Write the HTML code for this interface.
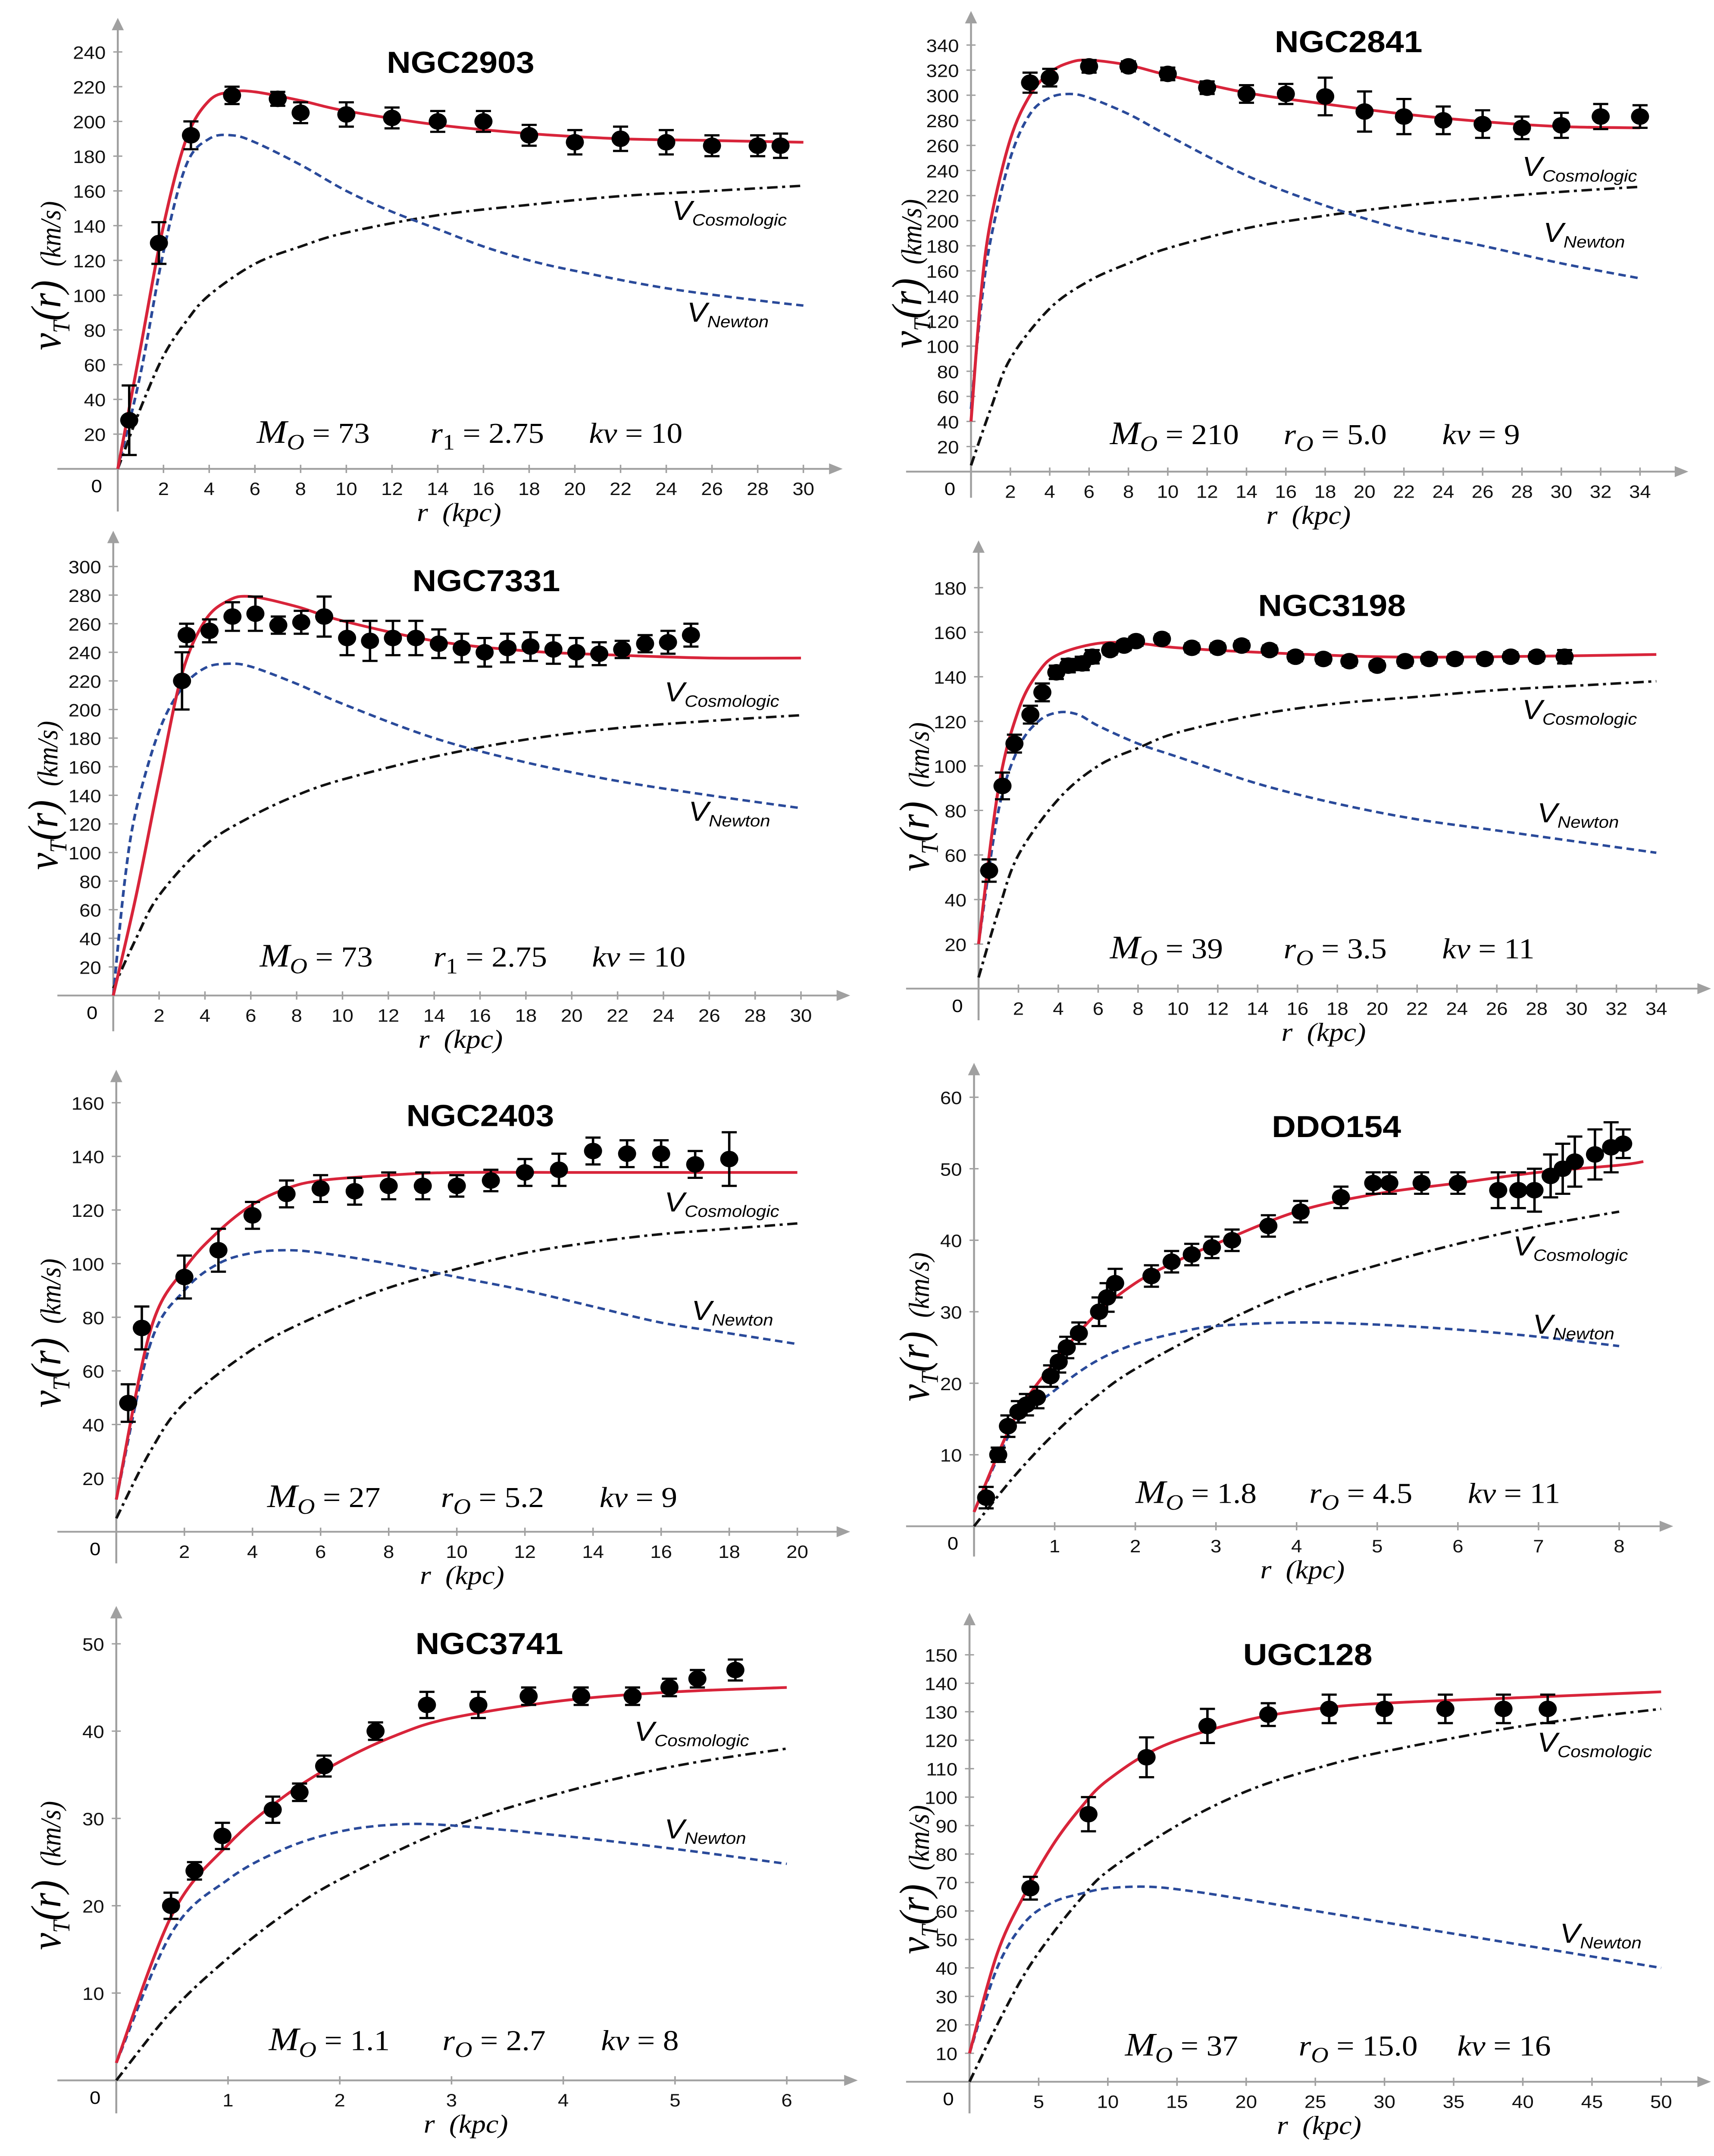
<!DOCTYPE html>
<html><head><meta charset="utf-8"><title>Rotation curves</title>
<style>html,body{margin:0;padding:0;background:#fff;overflow:hidden;width:100%;height:100%}svg{display:block;width:100%;height:100%}</style></head>
<body>
<svg id="root" xmlns="http://www.w3.org/2000/svg" viewBox="0 0 1135 1568" preserveAspectRatio="none"><g id="chart"></g></svg>
<script>
// ---------- data ----------
const titles = ["NGC2903","NGC2841","NGC7331","NGC3198","NGC2403","DDO154","NGC3741","UGC128"];
const params = [["73","r","1","2.75","10"],["210","r","O","5.0","9"],["73","r","1","2.75","10"],["39","r","O","3.5","11"],["27","r","O","5.2","9"],["1.8","r","O","4.5","11"],["1.1","r","O","2.7","8"],["37","r","O","15.0","16"]];
const xTicks = [[2,4,6,8,10,12,14,16,18,20,22,24,26,28,30],[2,4,6,8,10,12,14,16,18,20,22,24,26,28,30,32,34],[2,4,6,8,10,12,14,16,18,20,22,24,26,28,30],[2,4,6,8,10,12,14,16,18,20,22,24,26,28,30,32,34],[2,4,6,8,10,12,14,16,18,20],[1,2,3,4,5,6,7,8],[1,2,3,4,5,6],[5,10,15,20,25,30,35,40,45,50]];
const yTicks = [[20,40,60,80,100,120,140,160,180,200,220,240],[20,40,60,80,100,120,140,160,180,200,220,240,260,280,300,320,340],[20,40,60,80,100,120,140,160,180,200,220,240,260,280,300],[20,40,60,80,100,120,140,160,180],[20,40,60,80,100,120,140,160],[10,20,30,40,50,60],[10,20,30,40,50],[10,20,30,40,50,60,70,80,90,100,110,120,130,140,150]];

const obs1 = [[0.5,28,20],[1.8,130,12],[3.2,192,8],[5,215,5],[7,213,4],[8,205,6],[10,204,7],[12,202,6],[14,200,6],[16,200,6],[18,192,6],[20,188,7],[22,190,7],[24,188,7],[26,186,6],[28,186,6],[29,186,7]];
const fit1 = [[0,0],[1,70],[2,140],[3,190],[4,212],[5,217],[6,217],[8,212],[10,206],[14,198],[18,193],[22,190],[26,189],[30,188]];
const newt1 = [[0,0],[1,55],[2,125],[3,175],[4,190],[5,192],[6,188],[8,175],[10,160],[12,148],[14,138],[16,128],[18,120],[20,114],[24,104],[28,97],[30,94]];
const cosm1 = [[0,0],[1,35],[2,65],[3,85],[4,100],[6,118],[8,128],[10,136],[14,146],[18,152],[22,157],[26,160],[30,163]];

const obs2 = [[3,310,8],[4,314,7],[6,323,5],[8,323,4],[10,317,5],[12,306,5],[14,301,7],[16,301,8],[18,299,15],[20,287,16],[22,283,14],[24,280,11],[26,277,11],[28,274,9],[30,276,10],[32,283,10],[34,283,9]];
const fit2 = [[0,40],[0.5,140],[1,200],[2,265],[3,300],[4,318],[5,326],[6,328],[8,324],[10,316],[14,302],[18,293],[22,285],[26,279],[30,275],[34,274]];
const newt2 = [[0,50],[0.5,130],[1,185],[2,250],[3,285],[4,298],[5,301],[6,298],[8,285],[10,268],[14,236],[18,212],[22,193],[26,180],[30,166],[34,154]];
const cosm2 = [[0,5],[1,50],[2,90],[4,130],[6,152],[8,166],[10,178],[14,194],[18,204],[22,212],[26,218],[30,223],[34,227]];

const obs3 = [[3,220,20],[3.2,252,8],[4.2,255,8],[5.2,265,10],[6.2,267,12],[7.2,259,6],[8.2,261,8],[9.2,265,14],[10.2,250,12],[11.2,248,14],[12.2,250,12],[13.2,250,12],[14.2,246,10],[15.2,243,10],[16.2,240,10],[17.2,243,10],[18.2,244,10],[19.2,242,10],[20.2,240,10],[21.2,239,8],[22.2,242,6],[23.2,246,6],[24.2,247,8],[25.2,252,8]];
const fit3 = [[0,0],[1,70],[2,150],[3,225],[4,262],[5,276],[6,279],[8,272],[10,262],[14,248],[18,241],[22,238],[26,236],[30,236]];
const newt3 = [[0,0],[0.5,80],[1,130],[2,185],[3,215],[4,229],[5,232],[6,230],[8,218],[10,204],[14,180],[18,163],[22,150],[26,140],[30,131]];
const cosm3 = [[0,5],[1,40],[2,70],[4,105],[6,125],[8,140],[10,151],[14,167],[18,179],[22,187],[26,192],[30,196]];

const obs4 = [[0.53,53,5],[1.2,91,6],[1.8,110,4],[2.6,123,4],[3.2,133,4],[3.9,142,3],[4.5,145,3],[5.2,146,3],[5.7,149,3],[6.6,152,2],[7.3,154,2],[7.9,156,2],[9.2,157,2],[10.7,153,2],[12,153,2],[13.2,154,2],[14.6,152,2],[15.9,149,2],[17.3,148,2],[18.6,147,2],[20,145,2],[21.4,147,2],[22.6,148,2],[23.9,148,2],[25.4,148,2],[26.7,149,2],[28,149,2],[29.4,149,3]];
const fit4 = [[0,20],[1,90],[2,125],[3,142],[4,150],[6,155],[8,155],[10,153],[14,151],[20,149],[26,149],[34,150]];
const newt4 = [[0,20],[1,80],[2,108],[3,120],[4,124],[5,123],[6,118],[8,110],[10,104],[14,92],[18,83],[22,76],[26,71],[30,66],[34,61]];
const cosm4 = [[0,5],[1,35],[2,60],[4,85],[6,100],[8,108],[10,115],[14,123],[18,128],[22,131],[26,134],[30,136],[34,138]];

const obs5 = [[0.35,48,7],[0.75,76,8],[2,95,8],[3,105,8],[4,118,5],[5,126,5],[6,128,5],[7,127,5],[8,129,5],[9,129,5],[10,129,4],[11,131,4],[12,134,5],[13,135,6],[14,142,5],[15,141,5],[16,141,5],[17,137,5],[18,139,10]];
const fit5 = [[0,12],[1,75],[2,98],[3,112],[4,122],[5,128],[6,131],[8,133],[10,134],[14,134],[20,134]];
const newt5 = [[0,12],[1,70],[2,90],[3,100],[4,104],[5,105],[6,104],[8,100],[10,95],[12,90],[14,84],[16,78],[18,74],[20,70]];
const cosm5 = [[0,5],[1,30],[2,48],[4,68],[6,81],[8,91],[10,98],[12,104],[14,108],[16,111],[18,113],[20,115]];

const obs6 = [[0.15,4,1.5],[0.3,10,1],[0.42,14,1.5],[0.55,16,1.5],[0.65,17,1.5],[0.78,18,1.5],[0.95,21,1.5],[1.05,23,1.5],[1.15,25,1.5],[1.3,27,1.5],[1.55,30,2],[1.65,32,2],[1.75,34,2],[2.2,35,1.5],[2.45,37,1.5],[2.7,38,1.5],[2.95,39,1.5],[3.2,40,1.5],[3.65,42,1.5],[4.05,44,1.5],[4.55,46,1.5],[4.95,48,1.5],[5.15,48,1.5],[5.55,48,1.5],[6.0,48,1.5],[6.5,47,2.5],[6.75,47,2.5],[6.95,47,3],[7.15,49,3],[7.3,50,3.5],[7.45,51,3.5],[7.7,52,3.5],[7.9,53,3.5],[8.05,53.5,2]];
const fit6 = [[0,2],[0.5,15],[1,23],[1.5,29.5],[2,34],[2.5,37],[3,39.5],[4,44],[5,46.5],[6,48],[7,49.5],[8,50.5],[8.3,51]];
const newt6 = [[0,2],[0.5,14],[1,19],[1.5,23],[2,25.5],[2.5,27],[3,28],[4,28.5],[5,28.2],[6,27.5],[7,26.5],[8,25.2]];
const cosm6 = [[0,0],[0.5,7],[1,13],[1.5,18],[2,22],[3,28],[4,33],[5,36.5],[6,39.5],[7,42],[8,44]];

const obs7 = [[0.49,20,1.5],[0.7,24,1],[0.95,28,1.5],[1.4,31,1.5],[1.64,33,1],[1.86,36,1.2],[2.32,40,1],[2.78,43,1.5],[3.24,43,1.5],[3.69,44,1],[4.16,44,1],[4.62,44,1],[4.95,45,1],[5.2,46,1],[5.54,47,1.2]];
const fit7 = [[0,2],[0.5,19],[1,27],[1.5,32.5],[2,36.5],[2.5,39.5],[3,41.5],[4,43.5],[5,44.5],[6,45]];
const newt7 = [[0,2],[0.5,17],[1,23],[1.5,26.5],[2,28.5],[2.5,29.3],[3,29.2],[4,28],[5,26.5],[6,24.8]];
const cosm7 = [[0,0],[0.5,8],[1,14],[1.5,19],[2,23],[3,29],[4,33],[5,36],[6,38]];

const obs8 = [[4.4,68,4],[8.6,94,6],[12.8,114,7],[17.2,125,6],[21.6,129,4],[26,131,5],[30,131,5],[34.4,131,5],[38.6,131,5],[41.8,131,5]];
const fit8 = [[0,10],[2,45],[4,66],[6,83],[8,96],[10,106],[14,118],[20,127],[25,131],[30,133],[40,135],[50,137]];
const newt8 = [[0,10],[2,40],[4,56],[6,63],[8,66],[10,68],[13,68.5],[16,67],[20,64],[25,60],[30,56],[40,48],[50,40]];
const cosm8 = [[0,0],[2,20],[4,38],[6,52],[8,64],[10,74],[15,90],[20,102],[25,110],[30,116],[40,125],[50,131]];

const obsAll=[obs1,obs2,obs3,obs4,obs5,obs6,obs7,obs8];
const fitAll=[fit1,fit2,fit3,fit4,fit5,fit6,fit7,fit8];
const newtAll=[newt1,newt2,newt3,newt4,newt5,newt6,newt7,newt8];
const cosmAll=[cosm1,cosm2,cosm3,cosm4,cosm5,cosm6,cosm7,cosm8];

// ---------- layout (not data) ----------
const layout=[
 {ox:78,oy:341,xs:(532-78)/30,ys:25.27/20,ax:[38,550],ay:[20,372],title:[305,45],vc:[445,160],vn:[455,234],py:315,pxs:170,ylab:40},
 {ox:643,oy:343,xs:26.06/2,ys:18.25/20,ax:[600,1110],ay:[15,362],title:[893,30],vc:[1008,128],vn:[1022,176],py:316,pxs:735,ylab:610},
 {ox:75,oy:724,xs:30.36/2,ys:20.8/20,ax:[38,555],ay:[393,750],title:[322,422],vc:[440,510],vn:[456,597],py:696,pxs:172,ylab:38},
 {ox:648,oy:719,xs:26.4/2,ys:32.4/20,ax:[600,1125],ay:[400,742],title:[882,440],vc:[1008,523],vn:[1018,598],py:690,pxs:735,ylab:615},
 {ox:77,oy:1114,xs:45.1/2,ys:39/20,ax:[38,555],ay:[785,1137],title:[318,811],vc:[440,881],vn:[458,960],py:1089,pxs:177,ylab:40},
 {ox:645,oy:1110,xs:53.4,ys:52/10,ax:[600,1100],ay:[780,1132],title:[885,819],vc:[1002,913],vn:[1015,970],py:1086,pxs:752,ylab:615},
 {ox:77,oy:1513,xs:74,ys:63.5/10,ax:[38,560],ay:[1175,1537],title:[324,1195],vc:[420,1266],vn:[440,1337],py:1484,pxs:178,ylab:40},
 {ox:642,oy:1514,xs:45.8/5,ys:20.7/10,ax:[600,1125],ay:[1180,1537],title:[866,1203],vc:[1018,1274],vn:[1033,1413],py:1488,pxs:745,ylab:615}
];

const NS="http://www.w3.org/2000/svg";
const svg=document.getElementById('chart');
function mk(tag,attrs,parent,text){const e=document.createElementNS(NS,tag);for(const k in attrs)e.setAttribute(k,attrs[k]);if(text!==undefined)e.textContent=text;(parent||svg).appendChild(e);return e;}
function smooth(pts){let d='M'+pts[0][0].toFixed(2)+','+pts[0][1].toFixed(2);for(let i=0;i<pts.length-1;i++){const p0=pts[Math.max(0,i-1)],p1=pts[i],p2=pts[i+1],p3=pts[Math.min(pts.length-1,i+2)];const c1=[p1[0]+(p2[0]-p0[0])/6,p1[1]+(p2[1]-p0[1])/6],c2=[p2[0]-(p3[0]-p1[0])/6,p2[1]-(p3[1]-p1[1])/6];d+='C'+c1[0].toFixed(2)+','+c1[1].toFixed(2)+' '+c2[0].toFixed(2)+','+c2[1].toFixed(2)+' '+p2[0].toFixed(2)+','+p2[1].toFixed(2);}return d;}

layout.forEach((L,i)=>{
 const X=v=>L.ox+v*L.xs, Y=v=>L.oy-v*L.ys;
 const g=mk('g',{});
 
 
 const ax=mk('line',{x1:L.ax[0],y1:L.oy,x2:L.ax[1],y2:L.oy,stroke:'#a0a0a0','stroke-width':1.3},g);
 
 mk('path',{d:`M${L.ax[1]+8},${L.oy} l-9,-4 v8z`,fill:'#a0a0a0'},g);
 const ay=mk('line',{x1:L.ox,y1:L.ay[0],x2:L.ox,y2:L.ay[1],stroke:'#a0a0a0','stroke-width':1.3},g);
 
 mk('path',{d:`M${L.ox},${L.ay[0]-7} l-4,9 h8z`,fill:'#a0a0a0'},g);
 xTicks[i].forEach(t=>{mk('line',{x1:X(t),y1:L.oy-3,x2:X(t),y2:L.oy+3,stroke:'#a0a0a0'},g);
  const tx=mk('text',{x:X(t),y:L.oy+19,'font-size':13,'text-anchor':'middle','font-family':'Liberation Sans, sans-serif',fill:'#111'},g,t);
  });
 yTicks[i].forEach(t=>{mk('line',{x1:L.ox-3,y1:Y(t),x2:L.ox+3,y2:Y(t),stroke:'#a0a0a0'},g);
  const tx=mk('text',{x:L.ox-8,y:Y(t)+5,'font-size':13,'text-anchor':'end','font-family':'Liberation Sans, sans-serif',fill:'#111'},g,t);
  });
 mk('text',{x:L.ox-14,y:L.oy+17,'font-size':13,'text-anchor':'middle','font-family':'Liberation Sans, sans-serif'},g,'0');
 const xt=mk('text',{x:(L.ox+L.ax[1])/2-10,y:L.oy+38,'font-size':19,'text-anchor':'middle','font-family':'Liberation Serif, serif','font-style':'italic'},g,'r\u00a0\u00a0(kpc)');
 
 const cy=(L.ay[0]+L.oy)/2+20;
 const yt=mk('text',{x:0,y:0,transform:`translate(${L.ylab},${cy}) rotate(-90)`,'font-family':'Liberation Serif, serif','font-style':'italic','text-anchor':'middle'},g);
 
 mk('tspan',{'font-size':28},yt,'v');mk('tspan',{'font-size':16,dy:6},yt,'T');mk('tspan',{'font-size':28,dy:-6},yt,'(r)');mk('tspan',{'font-size':19,dx:10},yt,'(km/s)');
 const tt=mk('text',{x:L.title[0],y:L.title[1]+8,'font-size':22,'font-weight':'bold','text-anchor':'middle','font-family':'Liberation Sans, sans-serif'},g,titles[i]);
 
 const c=mk('path',{d:smooth(cosmAll[i].map(p=>[X(p[0]),Y(p[1])])),fill:'none',stroke:'#111','stroke-width':1.8,'stroke-dasharray':'7 3 2 3'},g);
 
 const n=mk('path',{d:smooth(newtAll[i].map(p=>[X(p[0]),Y(p[1])])),fill:'none',stroke:'#2a4a9a','stroke-width':1.8,'stroke-dasharray':'5 3'},g);
 
 const f=mk('path',{d:smooth(fitAll[i].map(p=>[X(p[0]),Y(p[1])])),fill:'none',stroke:'#d8243a','stroke-width':2},g);
 
 obsAll[i].forEach(p=>{const x=X(p[0]),y=Y(p[1]),y1=Y(p[1]+p[2]),y2=Y(p[1]-p[2]);
  const pg=mk('g',{},g);
  
  mk('path',{d:`M${x},${y1}V${y2}M${x-5},${y1}h10M${x-5},${y2}h10`,stroke:'#000','stroke-width':1.6,fill:'none'},pg);
  mk('circle',{cx:x,cy:y,r:6,fill:'#000'},pg);});
 const lc=mk('text',{x:L.vc[0],y:L.vc[1],'font-family':'Liberation Sans, sans-serif','font-style':'italic'},g);
 
 mk('tspan',{'font-size':20},lc,'V');mk('tspan',{'font-size':12,dy:4},lc,'Cosmologic');
 const ln=mk('text',{x:L.vn[0],y:L.vn[1],'font-family':'Liberation Sans, sans-serif','font-style':'italic'},g);
 
 mk('tspan',{'font-size':20},ln,'V');mk('tspan',{'font-size':12,dy:4},ln,'Newton');
 const P=params[i];
 const pg=mk('g',{'font-family':'Liberation Serif, serif','font-size':21},g);
 
 const t1=mk('text',{x:L.pxs,y:L.py+7},pg);
 mk('tspan',{'font-style':'italic','font-size':24},t1,'M');mk('tspan',{'font-style':'italic','font-size':16,dy:5},t1,'O');
 mk('tspan',{dy:-5},t1,' = '+P[0]);
 const t2=mk('text',{x:L.pxs+115,y:L.py+7},pg);
 mk('tspan',{'font-style':'italic'},t2,P[1]);
 mk('tspan',{'font-style':(P[2]==='O'?'italic':'normal'),'font-size':16,dy:5},t2,P[2]);
 mk('tspan',{dy:-5},t2,' = '+P[3]);
 const t3=mk('text',{x:L.pxs+220,y:L.py+7},pg);
 mk('tspan',{'font-style':'italic'},t3,'kv');mk('tspan',{},t3,' = '+P[4]);
});
</script>
</body></html>
